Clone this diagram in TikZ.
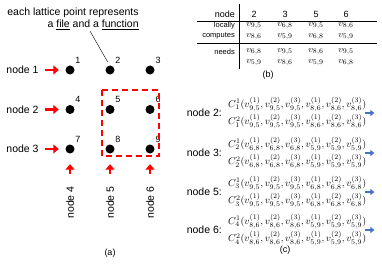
\documentclass[tikz,border=0pt]{standalone}
\usepackage{fontspec}
\setmainfont{Liberation Sans}
\usetikzlibrary{arrows.meta,positioning}
\definecolor{markred}{HTML}{FF0000}
\definecolor{flowblue}{HTML}{4472C4}
\tikzset{
  latdot/.style={circle,fill=black,inner sep=0pt,minimum size=9pt},
  latnum/.style={font=\fontsize{9}{10}\selectfont,inner sep=1pt},
  nodelabel/.style={font=\fontsize{10.5}{12}\selectfont,inner sep=1pt},
  redarrow/.style={-{Triangle[length=5.5pt,width=9pt]},line width=2.2pt,draw=markred},
  bluearrow/.style={-{Triangle[length=4pt,width=6pt]},line width=1.6pt,draw=flowblue},
  tabtext/.style={font=\fontsize{7.5}{9}\selectfont,inner sep=1pt,anchor=east},
  tabhead/.style={font=\fontsize{9}{10}\selectfont,inner sep=1pt},
  tabval/.style={font=\fontsize{9.5}{10}\selectfont,inner sep=1pt},
  formula/.style={anchor=west,align=left,inner sep=0pt,font=\fontsize{10}{17.5}\selectfont},
  caption/.style={font=\fontsize{9}{10}\selectfont,inner sep=1pt},
}
\newcommand{\vtrip}[1]{v^{(1)}_{#1},v^{(2)}_{#1},v^{(3)}_{#1}}

\begin{document}
\begin{tikzpicture}[x=1pt,y=-1pt]
\useasboundingbox (0,0) rectangle (382,267);
% (a) lattice
\foreach \r in {0,1,2} \foreach \c in {0,1,2} {
  \pgfmathtruncatemacro{\k}{3*\r+\c+1}
  \node[latdot] (p\k) at (70+40*\c,70+39.5*\r) {};
  \node[latnum] (n\k) at ([shift={(8,-10)}]p\k) {\k};
}
\node[align=right,font=\fontsize{10.5}{12}\selectfont,inner sep=1pt] (note) at (73,19)
  {each lattice point represents\\a \underline{file} and a \underline{function}};
\draw ([xshift=17pt]note.south) -- ([yshift=4pt]p2.120);
\foreach \k/\p in {1/p1,2/p4,3/p7} {
  \node[nodelabel,anchor=east] (r\k) at ([xshift=-25.5pt]\p.west) {node \k};
  \draw[redarrow] ([xshift=5pt]r\k.east) -- ([xshift=-6.5pt]\p.west);
}
\foreach \k/\p in {4/p7,5/p8,6/p9} {
  \node[nodelabel,rotate=90,anchor=east] (c\k) at ([yshift=-31.5pt]\p.south) {node \k};
  \draw[redarrow] ([yshift=11pt]c\k.east) -- ([yshift=-10.5pt]\p.south);
}
\draw[markred,line width=1.5pt,dash pattern=on 6pt off 4pt] (102,90) rectangle (159,156);
\node[caption] (capa) at (110,253) {(a)};
% (b) table
\node[tabhead,anchor=east] (hnode) at (236,14) {node};
\node[tabtext] (hloc) at (236,26) {locally};
\node[tabtext] (hcomp) at (236,36) {computes};
\node[tabtext] (hneed) at (236,52) {needs};
\foreach \x/\n/\la/\lb/\na/\nb in {254/2/{9,5}/{8,6}/{6,8}/{5,9}, 285/3/{6,8}/{5,9}/{9,5}/{8,6},
    316/5/{9,5}/{6,8}/{8,6}/{5,9}, 346/6/{8,6}/{5,9}/{9,5}/{6,8}} {
  \node[tabhead] (h\n) at (\x,14) {\n};
  \node[tabval] (l\n a) at (\x,26) {$v_{\la}$};
  \node[tabval] (l\n b) at (\x,37) {$v_{\lb}$};
  \node[tabval] (d\n a) at (\x,52) {$v_{\na}$};
  \node[tabval] (d\n b) at (\x,63) {$v_{\nb}$};
}
\draw[line width=0.5pt] (197,21) -- (377,21);
\draw[line width=0.9pt] (197,43) -- (377,43);
\draw[line width=0.9pt] (239,4) -- (239,69);
\node[caption] (capb) at (268,75) {(b)};
% (c) coded messages
\foreach \n/\i/\y/\a/\b in {2/1/113/{9,5}/{8,6}, 3/2/153/{6,8}/{5,9}, 5/3/192/{9,5}/{6,8}, 6/4/230/{8,6}/{5,9}} {
  \node[nodelabel,anchor=east] (m\n) at (223,\y) {node \n:};
  \node[formula] (f\n) at (228,\y) {$C_{\i}^{1}(\vtrip{\a},\vtrip{\b})$\\$C_{\i}^{2}(\vtrip{\a},\vtrip{\b})$};
  \coordinate (o\n) at ([xshift=8pt]f\n.east);
  \draw[bluearrow] ([xshift=-1pt]f\n.east) -- (o\n);
}
\node[caption] (capc) at (285,250) {(c)};
\end{tikzpicture}
\end{document}
